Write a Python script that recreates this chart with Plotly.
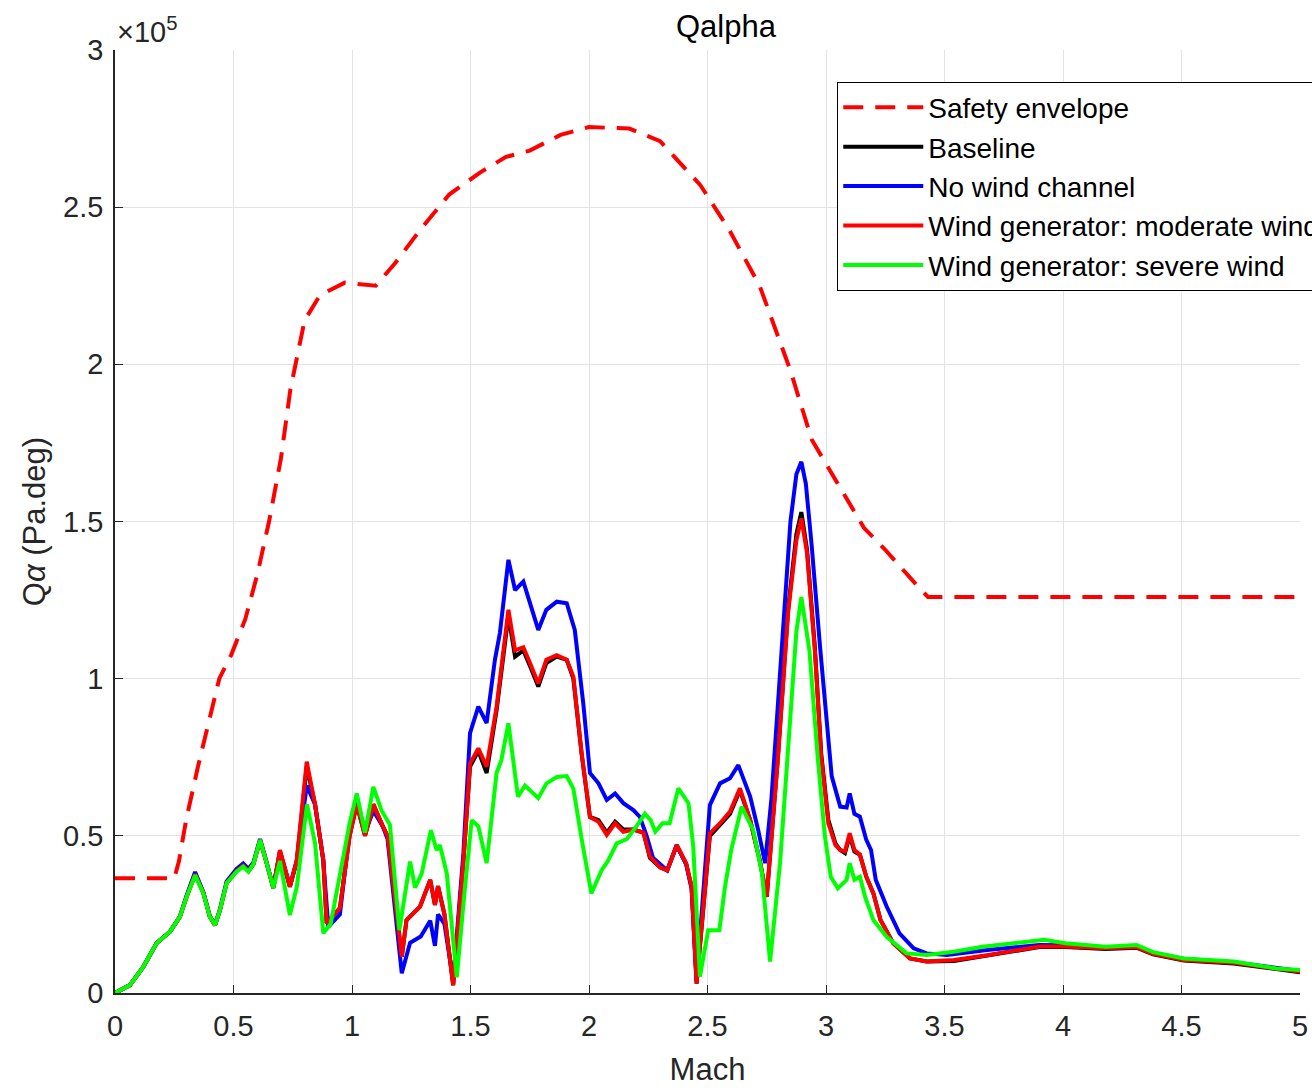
import plotly.graph_objects as go

# Qalpha versus Mach; Qalpha values are in units of 1e5 Pa.deg

# Safety envelope
env_mach = [0.0, 0.25, 0.27, 0.30, 0.35, 0.40, 0.44, 0.49, 0.55, 0.60, 0.65, 0.70, 0.74, 0.80,
            0.865, 0.97, 1.10, 1.18, 1.29, 1.41, 1.54, 1.65, 1.75, 1.88, 2.00, 2.17, 2.30,
            2.47, 2.59, 2.72, 2.85, 2.94, 3.04, 3.11, 3.16, 3.25, 3.33, 3.38, 3.43, 5.0]
env_q = [0.365, 0.365, 0.42, 0.55, 0.72, 0.88, 1.00, 1.075, 1.19, 1.33, 1.50, 1.70, 1.92, 2.14,
         2.22, 2.26, 2.25, 2.32, 2.43, 2.54, 2.61, 2.66, 2.68, 2.73, 2.755, 2.75, 2.71,
         2.57, 2.43, 2.25, 1.98, 1.76, 1.63, 1.54, 1.48, 1.41, 1.34, 1.30, 1.26, 1.26]

# No wind channel
blue_mach = [0.0, 0.063, 0.12, 0.176, 0.232, 0.274, 0.302, 0.338, 0.373, 0.40, 0.422, 0.443,
             0.471, 0.513, 0.541, 0.563, 0.584, 0.612, 0.64, 0.668, 0.696, 0.738, 0.767,
             0.809, 0.844, 0.879, 0.90, 0.949, 0.99, 1.02, 1.055, 1.09, 1.13, 1.15, 1.21,
             1.245, 1.29, 1.33, 1.35, 1.363, 1.39, 1.427, 1.47, 1.498, 1.533, 1.568, 1.603,
             1.624, 1.66, 1.688, 1.723, 1.751, 1.786, 1.82, 1.864, 1.906, 1.94, 1.976,
             2.004, 2.04, 2.075, 2.11, 2.145, 2.187, 2.215, 2.243, 2.27, 2.33, 2.37, 2.41,
             2.433, 2.454, 2.48, 2.51, 2.553, 2.595, 2.63, 2.68, 2.714, 2.743, 2.77, 2.806,
             2.85, 2.875, 2.896, 2.915, 2.94, 2.975, 3.0, 3.024, 3.06, 3.087, 3.10, 3.12,
             3.143, 3.17, 3.19, 3.21, 3.256, 3.31, 3.37, 3.425, 3.51, 3.68, 3.90, 4.01,
             4.18, 4.31, 4.38, 4.51, 4.72, 4.90, 5.0]
blue_q = [0.0, 0.025, 0.084, 0.159, 0.195, 0.243, 0.31, 0.385, 0.32, 0.245, 0.218, 0.266,
          0.355, 0.395, 0.412, 0.395, 0.415, 0.49, 0.415, 0.335, 0.45, 0.34, 0.42,
          0.66, 0.60, 0.42, 0.21, 0.25, 0.52, 0.62, 0.51, 0.58, 0.53, 0.49, 0.063,
          0.16, 0.18, 0.23, 0.15, 0.25, 0.22, 0.04, 0.444, 0.827, 0.911, 0.859, 1.06,
          1.145, 1.378, 1.282, 1.309, 1.24, 1.155, 1.219, 1.245, 1.24, 1.155, 0.92,
          0.70, 0.667, 0.614, 0.635, 0.604, 0.582, 0.56, 0.50, 0.43, 0.39, 0.47, 0.41,
          0.33, 0.04, 0.30, 0.598, 0.667, 0.683, 0.725, 0.625, 0.518, 0.413, 0.62, 1.0,
          1.5, 1.65, 1.69, 1.62, 1.42, 1.10, 0.90, 0.69, 0.593, 0.59, 0.635, 0.57,
          0.561, 0.487, 0.455, 0.36, 0.275, 0.19, 0.142, 0.126, 0.121, 0.137, 0.153, 0.152,
          0.142, 0.148, 0.128, 0.108, 0.098, 0.078, 0.07]

# Wind generator: moderate wind
red_mach = [0.0, 0.063, 0.12, 0.176, 0.232, 0.274, 0.302, 0.338, 0.373, 0.40, 0.422, 0.443,
            0.471, 0.513, 0.541, 0.563, 0.584, 0.612, 0.64, 0.668, 0.696, 0.738, 0.767,
            0.809, 0.844, 0.879, 0.893, 0.949, 0.99, 1.02, 1.055, 1.09, 1.13, 1.15, 1.21,
            1.23, 1.287, 1.33, 1.35, 1.363, 1.39, 1.427, 1.47, 1.498, 1.533, 1.568, 1.61,
            1.66, 1.688, 1.723, 1.751, 1.786, 1.82, 1.864, 1.906, 1.934, 1.969, 2.004,
            2.04, 2.075, 2.11, 2.145, 2.187, 2.23, 2.257, 2.30, 2.33, 2.37, 2.41, 2.433,
            2.454, 2.48, 2.51, 2.553, 2.595, 2.637, 2.68, 2.72, 2.75, 2.797, 2.84, 2.875,
            2.896, 2.92, 2.953, 2.98, 3.01, 3.04, 3.06, 3.08, 3.10, 3.12, 3.143, 3.17,
            3.20, 3.23, 3.284, 3.354, 3.425, 3.54, 3.68, 3.90, 4.01, 4.18, 4.31, 4.38,
            4.51, 4.72, 4.90, 5.0]
red_q = [0.0, 0.025, 0.084, 0.159, 0.195, 0.243, 0.306, 0.378, 0.318, 0.243, 0.216, 0.264,
         0.35, 0.388, 0.405, 0.388, 0.41, 0.487, 0.413, 0.334, 0.455, 0.338, 0.423,
         0.736, 0.60, 0.423, 0.222, 0.27, 0.50, 0.60, 0.50, 0.60, 0.53, 0.50, 0.115,
         0.232, 0.275, 0.36, 0.28, 0.34, 0.25, 0.025, 0.42, 0.73, 0.778, 0.72, 0.91,
         1.219, 1.09, 1.10, 1.05, 0.985, 1.06, 1.075, 1.06, 1.006, 0.763, 0.56,
         0.545, 0.503, 0.54, 0.513, 0.52, 0.51, 0.434, 0.40, 0.39, 0.47, 0.413, 0.338,
         0.03, 0.254, 0.508, 0.54, 0.577, 0.651, 0.55, 0.423, 0.306, 0.745, 1.21, 1.44,
         1.51, 1.40, 1.09, 0.75, 0.54, 0.47, 0.455, 0.45, 0.508, 0.455, 0.44, 0.37,
         0.317, 0.232, 0.158, 0.11, 0.10, 0.105, 0.12, 0.148, 0.148, 0.142, 0.146, 0.125,
         0.105, 0.096, 0.078, 0.068]

# Baseline
black_mach = red_mach
black_q = [0.0, 0.025, 0.084, 0.159, 0.195, 0.243, 0.306, 0.378, 0.318, 0.243, 0.216, 0.264,
           0.35, 0.388, 0.405, 0.388, 0.41, 0.487, 0.413, 0.334, 0.45, 0.338, 0.42,
           0.72, 0.60, 0.423, 0.222, 0.27, 0.50, 0.60, 0.50, 0.60, 0.53, 0.50, 0.115,
           0.232, 0.275, 0.36, 0.28, 0.34, 0.25, 0.025, 0.42, 0.72, 0.77, 0.70, 0.90,
           1.20, 1.07, 1.09, 1.04, 0.975, 1.05, 1.07, 1.06, 1.0, 0.76, 0.56,
           0.55, 0.51, 0.545, 0.52, 0.52, 0.51, 0.43, 0.40, 0.39, 0.47, 0.41, 0.338,
           0.03, 0.25, 0.50, 0.535, 0.57, 0.645, 0.55, 0.423, 0.306, 0.75, 1.22, 1.46,
           1.53, 1.41, 1.10, 0.76, 0.55, 0.475, 0.455, 0.445, 0.50, 0.45, 0.44, 0.37,
           0.317, 0.232, 0.158, 0.11, 0.10, 0.102, 0.118, 0.146, 0.146, 0.14, 0.144, 0.123,
           0.103, 0.094, 0.076, 0.066]

# Wind generator: severe wind
green_mach = [0.0, 0.063, 0.12, 0.176, 0.232, 0.274, 0.302, 0.338, 0.373, 0.40, 0.422, 0.443,
              0.471, 0.513, 0.541, 0.563, 0.584, 0.612, 0.64, 0.668, 0.696, 0.738, 0.767,
              0.81, 0.844, 0.879, 0.91, 0.949, 0.99, 1.02, 1.055, 1.09, 1.125, 1.16, 1.20,
              1.245, 1.266, 1.294, 1.333, 1.357, 1.371, 1.40, 1.442, 1.477, 1.505, 1.533,
              1.568, 1.61, 1.63, 1.66, 1.68, 1.70, 1.73, 1.76, 1.786, 1.82, 1.864, 1.906,
              1.934, 1.969, 2.01, 2.053, 2.08, 2.117, 2.16, 2.20, 2.236, 2.26, 2.28, 2.31,
              2.34, 2.377, 2.42, 2.44, 2.468, 2.503, 2.55, 2.574, 2.60, 2.644, 2.693, 2.73,
              2.764, 2.806, 2.848, 2.875, 2.896, 2.93, 2.965, 2.995, 3.02, 3.05, 3.087,
              3.10, 3.12, 3.143, 3.165, 3.20, 3.256, 3.34, 3.425, 3.54, 3.66, 3.80, 3.92,
              4.01, 4.18, 4.31, 4.38, 4.51, 4.72, 4.90, 5.0]
green_q = [0.0, 0.025, 0.084, 0.159, 0.195, 0.243, 0.306, 0.375, 0.317, 0.243, 0.216, 0.264,
           0.349, 0.386, 0.402, 0.386, 0.41, 0.487, 0.413, 0.334, 0.42, 0.248, 0.337,
           0.60, 0.477, 0.19, 0.22, 0.38, 0.54, 0.635, 0.51, 0.656, 0.58, 0.535, 0.20,
           0.418, 0.335, 0.38, 0.518, 0.455, 0.47, 0.38, 0.05, 0.338, 0.55, 0.53,
           0.413, 0.70, 0.74, 0.858, 0.74, 0.625, 0.66, 0.64, 0.62, 0.666, 0.687, 0.69,
           0.65, 0.49, 0.317, 0.39, 0.42, 0.476, 0.49, 0.53, 0.57, 0.55, 0.513, 0.54,
           0.54, 0.651, 0.603, 0.465, 0.052, 0.20, 0.20, 0.338, 0.455, 0.593, 0.518, 0.38,
           0.10, 0.413, 0.89, 1.15, 1.26, 1.09, 0.75, 0.50, 0.37, 0.333, 0.36,
           0.413, 0.36, 0.37, 0.306, 0.232, 0.179, 0.126, 0.121, 0.131, 0.147, 0.158, 0.169,
           0.158, 0.147, 0.153, 0.13, 0.11, 0.10, 0.078, 0.073]

x_ticks = [0, 0.5, 1, 1.5, 2, 2.5, 3, 3.5, 4, 4.5, 5]
x_tick_text = ["0", "0.5", "1", "1.5", "2", "2.5", "3", "3.5", "4", "4.5", "5"]
y_ticks = [0, 0.5, 1, 1.5, 2, 2.5, 3]
y_tick_text = ["0", "0.5", "1", "1.5", "2", "2.5", "3"]

FONT = "Liberation Sans, Arial, Helvetica, sans-serif"
AX = "#262626"
LW = 4

fig = go.Figure()
fig.add_trace(go.Scatter(x=env_mach, y=env_q, mode="lines", name="Safety envelope",
                         line=dict(color="#ff0000", width=LW, dash="20px,12px")))
fig.add_trace(go.Scatter(x=black_mach, y=black_q, mode="lines", name="Baseline",
                         line=dict(color="#000000", width=LW)))
fig.add_trace(go.Scatter(x=blue_mach, y=blue_q, mode="lines", name="No wind channel",
                         line=dict(color="#0000ff", width=LW)))
fig.add_trace(go.Scatter(x=red_mach, y=red_q, mode="lines", name="Wind generator: moderate wind",
                         line=dict(color="#ff0000", width=LW)))
fig.add_trace(go.Scatter(x=green_mach, y=green_q, mode="lines", name="Wind generator: severe wind",
                         line=dict(color="#00ff00", width=LW)))

axis_common = dict(
    showgrid=True, gridcolor="#e3e3e3", gridwidth=1,
    showline=True, linecolor=AX, linewidth=1.5,
    ticks="inside", ticklen=8, tickcolor=AX, tickwidth=1.2,
    tickfont=dict(family=FONT, size=29, color=AX),
    zeroline=False, mirror=False,
)

fig.update_xaxes(range=[0, 5], tickvals=x_ticks, ticktext=x_tick_text, ticklabelstandoff=6,
                 title=dict(text="Mach", font=dict(family=FONT, size=31, color=AX), standoff=18),
                 **axis_common)
fig.update_yaxes(range=[0, 3], tickvals=y_ticks, ticktext=y_tick_text, ticklabelstandoff=4,
                 title=dict(text="Q<i>α</i> (Pa.deg)", font=dict(family=FONT, size=31, color=AX),
                            standoff=8),
                 **axis_common)

fig.update_layout(
    width=1312, height=1088,
    margin=dict(l=115, r=12, t=50, b=95, autoexpand=False),
    plot_bgcolor="white", paper_bgcolor="white",
    font=dict(family=FONT, color=AX),
    showlegend=True,
    legend=dict(x=0.6095, y=0.9665, xanchor="left", yanchor="top",
                bgcolor="white", bordercolor="#000000", borderwidth=1,
                font=dict(family=FONT, size=28, color="#000000"),
                itemwidth=80, tracegroupgap=0),
    annotations=[
        dict(text="Qalpha", x=0.516, y=1.0, xref="paper", yref="paper",
             xanchor="center", yanchor="bottom", yshift=4, showarrow=False,
             font=dict(family=FONT, size=31, color="#000000")),
        dict(text="×10<sup>5</sup>", x=0.0, y=1.0, xref="paper", yref="paper",
             xanchor="left", yanchor="bottom", showarrow=False, yshift=0,
             font=dict(family=FONT, size=29, color=AX)),
    ],
)

fig.write_html("out.html")
